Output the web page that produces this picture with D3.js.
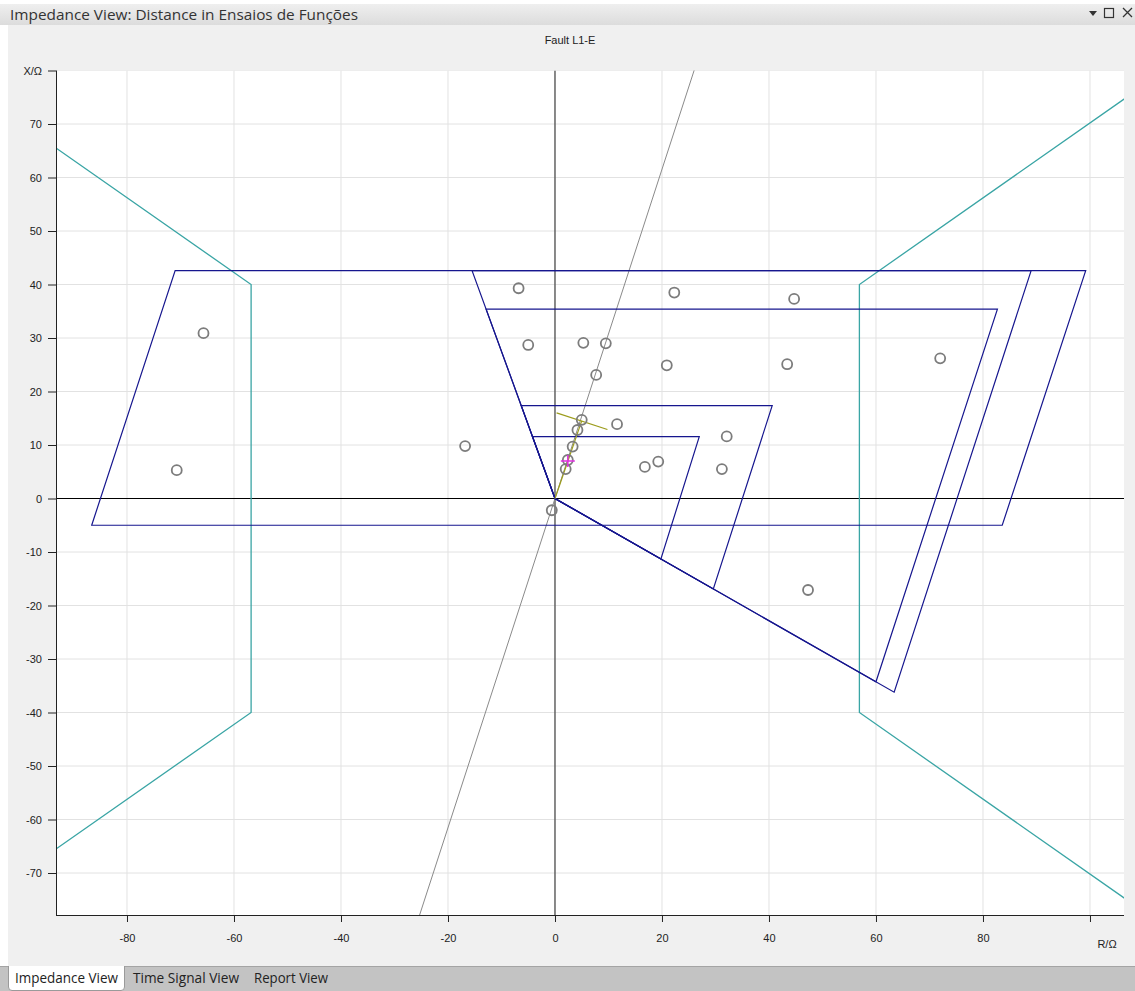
<!DOCTYPE html>
<html>
<head>
<meta charset="utf-8">
<script src="https://cdn.jsdelivr.net/npm/d3@7"></script>
<style>
  body { margin: 0; background: #f0f0f0; overflow: hidden; }
  svg { display: block; }
</style>
</head>
<body>
<svg id="chart" width="1135" height="991"></svg>
<script>
// ---- axis ticks ----
const rTicks = [-80, -60, -40, -20, 0, 20, 40, 60, 80, 100];
const rTickLabels = ["-80", "-60", "-40", "-20", "0", "20", "40", "60", "80", ""];
const xTicks = [-70, -60, -50, -40, -30, -20, -10, 0, 10, 20, 30, 40, 50, 60, 70, 80];
const xTickLabels = ["-70", "-60", "-50", "-40", "-30", "-20", "-10", "0", "10", "20", "30", "40", "50", "60", "70", "X/Ω"];

// ---- distance zones (R, X in ohm) ----
const zone1 = [[0, 0], [-4.2, 11.55], [26.97, 11.55], [19.8, -11.3]];
const zone2 = [[0, 0], [-6.31, 17.35], [40.6, 17.35], [29.6, -16.9]];
const zone3 = [[0, 0], [-12.88, 35.4], [82.7, 35.4], [60.0, -34.26]];
const zone4 = [[0, 0], [-15.5, 42.6], [89.0, 42.6], [63.4, -36.2]];
const zoneNonDir = [[-86.6, -5.0], [-71.0, 42.6], [99.2, 42.6], [83.6, -5.0]];

// ---- load encroachment ----
const loadLeft = [[-120, 84.2], [-56.8, 40], [-56.8, -40], [-120, -84.2]];
const loadRight = [[120, 84.2], [56.9, 40], [56.9, -40], [120, -84.2]];

// ---- line angle, fault vector and fault location mark ----
const lineAngle = [[-30, -92.3], [30, 92.3]];
const faultVector = [[0, 0], [5.0, 14.5]];
const faultMark = [[0.3, 16.0], [9.8, 12.9]];
const faultImpedance = [2.4, 7.0];

// ---- test shots ----
const testR = [-6.8, 22.3, 44.7, -65.7, -5.0, 5.3, 9.5, 7.7, 20.9, 43.4, 72.0, 5.0, 4.2, 11.6,
               -16.8, 32.1, 3.3, 2.4, 2.0, 16.8, 19.3, 31.2, -70.7, -0.6, 47.3];
const testX = [39.3, 38.5, 37.3, 30.9, 28.7, 29.1, 29.0, 23.1, 24.9, 25.1, 26.2, 14.7, 12.8, 13.9,
               9.8, 11.6, 9.7, 7.2, 5.5, 5.9, 6.9, 5.5, 5.3, -2.2, -17.1];

const svg = d3.select("#chart");
const W = 1135, H = 991;
const plot = { left: 56, right: 1124, top: 70.5, bottom: 915 };

const x = d3.scaleLinear().domain([-93.27, 106.36]).range([plot.left, plot.right]);
const y = d3.scaleLinear().domain([-77.85, 80]).range([plot.bottom, plot.top]);

const uiFont = "'Open Sans', 'Noto Sans', sans-serif";
const axFont = "'Liberation Sans', Arial, sans-serif";

// ---- window chrome ----
const defs = svg.append("defs");
const grad = defs.append("linearGradient").attr("id", "titleGrad")
  .attr("x1", 0).attr("y1", 0).attr("x2", 0).attr("y2", 1);
grad.append("stop").attr("offset", "0%").attr("stop-color", "#efefef");
grad.append("stop").attr("offset", "100%").attr("stop-color", "#dcdcdc");

svg.append("rect").attr("x", 0).attr("y", 0).attr("width", W).attr("height", 4).attr("fill", "#ffffff");
svg.append("rect").attr("x", 0).attr("y", 4).attr("width", W).attr("height", 21).attr("fill", "url(#titleGrad)");
svg.append("rect").attr("x", 0).attr("y", 25).attr("width", 8).attr("height", 941).attr("fill", "#ffffff");

svg.append("text").attr("x", 10).attr("y", 19.5)
  .attr("font-family", uiFont).attr("font-size", 15).attr("fill", "#333")
  .attr("textLength", 348).attr("lengthAdjust", "spacingAndGlyphs")
  .text("Impedance View: Distance in Ensaios de Funções");

// window buttons
svg.append("path").attr("d", "M1089,11 L1097,11 L1093,16 Z").attr("fill", "#333");
svg.append("rect").attr("x", 1104.5).attr("y", 8.5).attr("width", 9).attr("height", 9)
  .attr("fill", "none").attr("stroke", "#333").attr("stroke-width", 1.2);
svg.append("path").attr("d", "M1123,8 L1132,17 M1132,8 L1123,17")
  .attr("stroke", "#333").attr("stroke-width", 1.3);

// ---- chart title ----
svg.append("text").attr("x", 570).attr("y", 44).attr("text-anchor", "middle")
  .attr("font-family", axFont).attr("font-size", 11).attr("fill", "#222")
  .text("Fault L1-E");

// ---- plot area ----
svg.append("rect").attr("x", plot.left).attr("y", plot.top)
  .attr("width", plot.right - plot.left).attr("height", plot.bottom - plot.top)
  .attr("fill", "#ffffff");

defs.append("clipPath").attr("id", "plotClip").append("rect")
  .attr("x", plot.left).attr("y", plot.top)
  .attr("width", plot.right - plot.left).attr("height", plot.bottom - plot.top);

const g = svg.append("g").attr("clip-path", "url(#plotClip)");

// grid
g.selectAll(".vgrid").data(rTicks).join("line").attr("class", "vgrid")
  .attr("x1", d => x(d)).attr("x2", d => x(d))
  .attr("y1", plot.top).attr("y2", plot.bottom)
  .attr("stroke", "#e2e2e2").attr("stroke-width", 1);
g.selectAll(".hgrid").data(xTicks).join("line").attr("class", "hgrid")
  .attr("y1", d => y(d)).attr("y2", d => y(d))
  .attr("x1", plot.left).attr("x2", plot.right)
  .attr("stroke", "#e2e2e2").attr("stroke-width", 1);

// zero axes
g.append("line").attr("x1", x(0)).attr("x2", x(0)).attr("y1", plot.top).attr("y2", plot.bottom)
  .attr("stroke", "#222").attr("stroke-width", 1);
g.append("line").attr("y1", y(0)).attr("y2", y(0)).attr("x1", plot.left).attr("x2", plot.right)
  .attr("stroke", "#000").attr("stroke-width", 1);

const line = d3.line().x(d => x(d[0])).y(d => y(d[1]));

// line angle
g.append("path").attr("d", line(lineAngle)).attr("fill", "none")
  .attr("stroke", "#8a8a8a").attr("stroke-width", 1);

// load encroachment
[loadLeft, loadRight].forEach(pts => {
  g.append("path").attr("d", line(pts)).attr("fill", "none")
    .attr("stroke", "#3aa5a5").attr("stroke-width", 1.3);
});

// zones
[zoneNonDir, zone4, zone3, zone2, zone1].forEach(pts => {
  g.append("path").attr("d", line(pts) + "Z").attr("fill", "none")
    .attr("stroke", "#16168e").attr("stroke-width", 1.2);
});

// fault vector and location mark
g.append("path").attr("d", line(faultVector)).attr("fill", "none")
  .attr("stroke", "#9c9c1c").attr("stroke-width", 1.2);
g.append("path").attr("d", line(faultMark)).attr("fill", "none")
  .attr("stroke", "#9c9c1c").attr("stroke-width", 1.2);

// test shots
g.selectAll(".shot").data(testR.map((r, i) => [r, testX[i]])).join("circle").attr("class", "shot")
  .attr("cx", d => x(d[0])).attr("cy", d => y(d[1])).attr("r", 5)
  .attr("fill", "none").attr("stroke", "#7c7c7c").attr("stroke-width", 1.8);

// measured fault impedance
const fx = x(faultImpedance[0]), fy = y(faultImpedance[1]);
g.append("path").attr("d", `M${fx - 7},${fy} L${fx + 7},${fy} M${fx},${fy - 6} L${fx},${fy + 6}`)
  .attr("stroke", "#e030e0").attr("stroke-width", 1.5);

// ---- axes ----
const axLeft = svg.append("g").attr("transform", `translate(${plot.left},0)`)
  .call(d3.axisLeft(y).tickValues(xTicks).tickSizeInner(8).tickSizeOuter(0).tickPadding(6)
    .tickFormat((d, i) => xTickLabels[i]));
const axBottom = svg.append("g").attr("transform", `translate(0,${plot.bottom})`)
  .call(d3.axisBottom(x).tickValues(rTicks).tickSizeInner(7).tickSizeOuter(0).tickPadding(12)
    .tickFormat((d, i) => rTickLabels[i]));

[axLeft, axBottom].forEach(a => {
  a.select(".domain").attr("stroke", "#222");
  a.selectAll(".tick line").attr("stroke", "#222");
  a.selectAll("text").attr("font-family", axFont).attr("font-size", 11).attr("fill", "#222");
});
axLeft.select(".domain").attr("d", `M0.5,${plot.top}V${plot.bottom}`);
axBottom.select(".domain").attr("d", `M${plot.left},0.5H${plot.right}`);

svg.append("text").attr("x", 1107).attr("y", 948).attr("text-anchor", "middle")
  .attr("font-family", axFont).attr("font-size", 11).attr("fill", "#222")
  .text("R/Ω");

// ---- tab strip ----
svg.append("rect").attr("x", 0).attr("y", 966).attr("width", W).attr("height", 25).attr("fill", "#c3c3c3");
svg.append("line").attr("x1", 0).attr("x2", W).attr("y1", 966.5).attr("y2", 966.5)
  .attr("stroke", "#a4a4a4").attr("stroke-width", 1);
svg.append("path")
  .attr("d", "M8.5,966 L8.5,987 Q8.5,990.5 12,990.5 L121,990.5 Q124.5,990.5 124.5,987 L124.5,966")
  .attr("fill", "#ffffff").attr("stroke", "#9a9a9a").attr("stroke-width", 1);

const tabs = [
  { label: "Impedance View", x: 15, w: 103 },
  { label: "Time Signal View", x: 133, w: 106 },
  { label: "Report View", x: 254, w: 74 }
];
svg.selectAll(".tab").data(tabs).join("text").attr("class", "tab")
  .attr("x", d => d.x).attr("y", 983)
  .attr("font-family", uiFont).attr("font-size", 14).attr("fill", "#222")
  .attr("textLength", d => d.w).attr("lengthAdjust", "spacingAndGlyphs")
  .text(d => d.label);
</script>
</body>
</html>
